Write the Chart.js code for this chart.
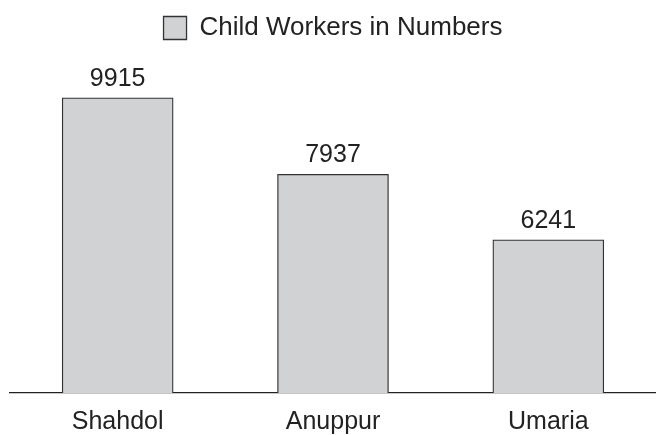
<!DOCTYPE html>
<html><head><meta charset="utf-8">
<script src="https://cdn.jsdelivr.net/npm/chart.js@4/dist/chart.umd.min.js"></script>
<style>html,body{margin:0;padding:0;background:#fff}#wrap{width:656px;height:435px}</style>
</head><body><div id="wrap"><canvas id="c"></canvas></div>
<script>
const categories = ["Shahdol", "Anuppur", "Umaria"];
const seriesName = "Child Workers in Numbers";
const childWorkers = [9915, 7937, 6241];

const FONT = '"Liberation Sans", Arial, sans-serif';

const valueLabels = {
  id: 'valueLabels',
  afterDatasetsDraw(chart) {
    const ctx = chart.ctx;
    const meta = chart.getDatasetMeta(0);
    ctx.save();
    ctx.font = '25px ' + FONT;
    ctx.fillStyle = '#222';
    ctx.textAlign = 'center';
    ctx.textBaseline = 'alphabetic';
    meta.data.forEach((bar, i) => {
      ctx.fillText(String(childWorkers[i]), bar.x, bar.y - 12);
    });
    ctx.restore();
  }
};

new Chart(document.getElementById('c'), {
  type: 'bar',
  data: {
    labels: categories,
    datasets: [{
      label: seriesName,
      data: childWorkers,
      backgroundColor: '#d1d2d4',
      borderColor: '#333',
      borderWidth: 1.3,
      barThickness: 111
    }]
  },
  options: {
    responsive: true,
    maintainAspectRatio: false,
    animation: false,
    layout: { padding: { left: 10, right: 0, top: 5, bottom: -16 } },
    plugins: {
      legend: {
        display: true,
        labels: {
          boxWidth: 23, boxHeight: 23,
          font: { size: 26, family: FONT },
          color: '#222',
          padding: 10
        }
      },
      tooltip: { enabled: false }
    },
    scales: {
      x: {
        grid: { display: false, drawTicks: false },
        border: { display: true, color: '#222', width: 1.3 },
        ticks: { color: '#222', padding: 14, font: { size: 25, family: FONT } }
      },
      y: {
        display: false,
        min: 2270,
        max: 11130
      }
    }
  },
  plugins: [valueLabels]
});
</script>
</body></html>
